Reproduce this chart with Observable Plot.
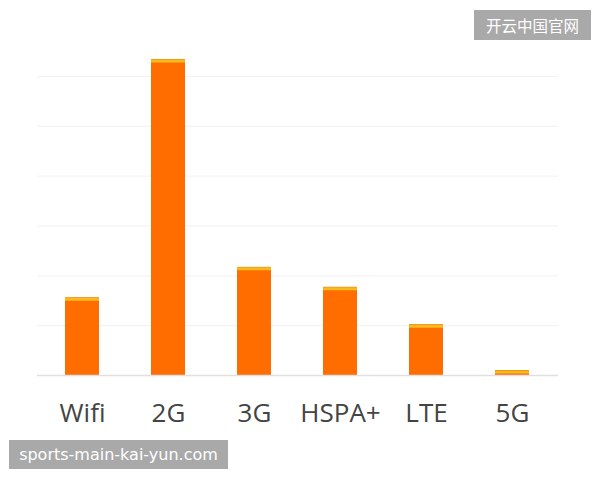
<!DOCTYPE html>
<html>
<head>
<meta charset="utf-8">
<script src="https://cdn.jsdelivr.net/npm/d3@7"></script>
<script src="https://cdn.jsdelivr.net/npm/@observablehq/plot@0.6"></script>
<style>
  html, body { margin: 0; padding: 0; background: #fff; }
  #wrap { position: relative; width: 600px; height: 480px; overflow: hidden; }
  .wm { position: absolute; background: #a9a9a9; color: #fff; box-sizing: border-box; white-space: nowrap; }
  #wm1 { left: 474px; top: 10px; width: 117px; height: 30px; font: 15.5px "Noto Sans CJK SC", sans-serif; line-height: 30px; text-align: center; }
  #wm2 { left: 9px; top: 440px; width: 219px; height: 29px; font: 16px "DejaVu Sans", sans-serif; line-height: 29px; text-align: center; }
</style>
</head>
<body>
<div id="wrap">
  <div id="chart"></div>
  <div class="wm" id="wm1">开云中国官网</div>
  <div class="wm" id="wm2">sports-main-kai-yun.com</div>
</div>
<script>
const categories = ["Wifi", "2G", "3G", "HSPA+", "LTE", "5G"];
const values = [15.6, 63.4, 21.7, 17.7, 10.2, 1.0];
const gridValues = [10, 20, 30, 40, 50, 60];

const data = categories.map((c, i) => ({ cat: c, value: values[i] }));

const chart = Plot.plot({
  width: 600,
  height: 480,
  marginLeft: 37,
  marginRight: 42,
  marginTop: 76,
  marginBottom: 105,
  style: { background: "#fff", fontFamily: "'Open Sans', sans-serif" },
  x: { domain: categories, paddingInner: 0.6, paddingOuter: 0.3, label: null },
  y: { domain: [0, 60], axis: null },
  marks: [
    Plot.ruleY(gridValues, { stroke: "#f1f1f1", strokeWidth: 1 }),
    Plot.barY(data, { x: "cat", y: "value", fill: "#ff6d00" }),
    Plot.tickY(data, { x: "cat", y: "value", stroke: "#f2bc1c", strokeWidth: 3, dy: 1.5 }),
    Plot.ruleY([0], { stroke: "#e0e0e0", strokeWidth: 1.5 }),
    Plot.axisX({ tickSize: 0, tickPadding: 28.5, fontSize: 26, label: null, color: "#444" })
  ]
});
document.getElementById("chart").appendChild(chart);
</script>
</body>
</html>
